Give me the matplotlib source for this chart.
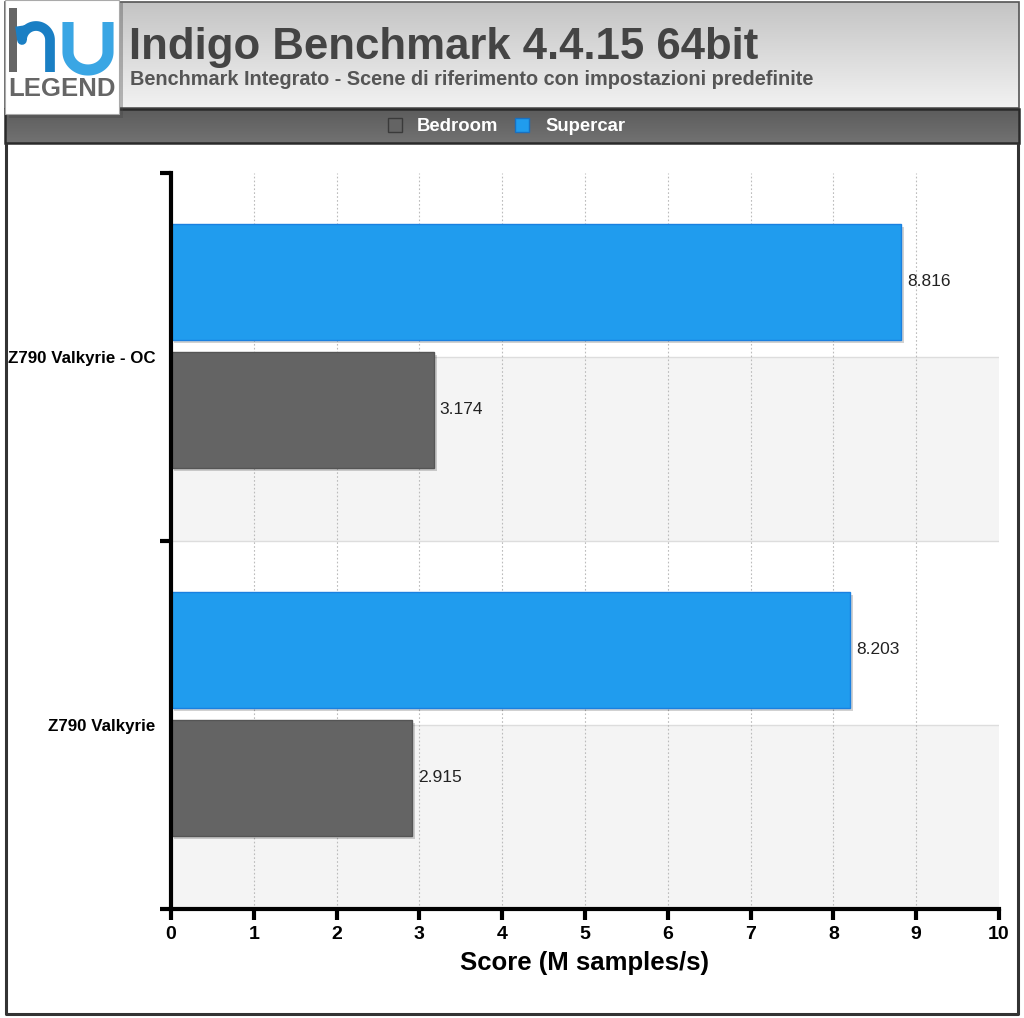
import matplotlib
matplotlib.use("Agg")
import matplotlib.pyplot as plt
import numpy as np
from matplotlib.patches import Rectangle
from matplotlib.colors import LinearSegmentedColormap
import matplotlib.patheffects as pe

categories = ["Z790 Valkyrie - OC", "Z790 Valkyrie"]
series_names = ["Bedroom", "Supercar"]
bedroom = [3.174, 2.915]
supercar = [8.816, 8.203]
x_ticks = [0, 1, 2, 3, 4, 5, 6, 7, 8, 9, 10]
title = "Indigo Benchmark 4.4.15 64bit"
subtitle = "Benchmark Integrato - Scene di riferimento con impostazioni predefinite"
xlabel = "Score (M samples/s)"

C_BED = "#646464"
C_SUP = "#209cee"
FONT = ["Liberation Sans", "DejaVu Sans"]

W, H = 1024, 1018
fig = plt.figure(figsize=(W / 100, H / 100), dpi=100)
fig.patch.set_facecolor("white")

ov = fig.add_axes([0, 0, 1, 1], zorder=0)
ov.set_xlim(0, W)
ov.set_ylim(H, 0)
ov.axis("off")

grad = np.linspace(0, 1, 200).reshape(-1, 1)
cm_head = LinearSegmentedColormap.from_list("h", ["#c4c4c4", "#f2f2f2"])
ov.imshow(grad, cmap=cm_head, extent=[5, 1019, 108, 2], aspect="auto", zorder=1)
ov.add_patch(Rectangle((5, 2), 1014, 106, fill=False, ec="#555555", lw=1.2, zorder=2))

cm_leg = LinearSegmentedColormap.from_list("l", ["#5c5c5c", "#727272"])
ov.imshow(grad, cmap=cm_leg, extent=[5, 1019, 143, 109], aspect="auto", zorder=1)
ov.add_patch(Rectangle((5, 109), 1014, 34, fill=False, ec="#2a2a2a", lw=1.8, zorder=2))

ov.plot([6, 6, 1018, 1018], [143, 1014, 1014, 143], color="#333333", lw=2.2, zorder=2,
        solid_capstyle="butt")

# logo
ov.add_patch(Rectangle((9, 3), 114, 115, fc="#444444", ec="none", alpha=0.35, zorder=3))
ov.add_patch(Rectangle((5, 0), 114, 114, fc="white", ec="#aaaaaa", lw=0.8, zorder=4))
ov.add_patch(Rectangle((9, 8), 8, 64, fc="#666666", ec="none", zorder=5))
t = np.linspace(np.pi, 0, 40)
ax_h = 36 + 14 * np.cos(t)
ay_h = 40 - 14 * np.sin(t)
ov.plot(np.r_[20, ax_h, 50], np.r_[26, ay_h, 72], color="#1a7fc4", lw=7, zorder=5,
        solid_capstyle="butt", solid_joinstyle="round")
ax_u = 88 + 20 * np.cos(t)
ay_u = 52 + 18 * np.sin(t)
ov.plot(np.r_[68, ax_u, 108], np.r_[22, ay_u, 22], color="#3aa6e4", lw=8, zorder=5,
        solid_capstyle="butt", solid_joinstyle="round")
ov.text(62, 89, "LEGEND", fontsize=18.5, fontweight="bold", color="#666666", ha="center",
        va="center", family=FONT, zorder=5)

# titles
ov.text(129, 59, title, fontsize=31.5, fontweight="bold", color="#444444", ha="left",
        va="baseline", family=FONT, zorder=5)
ov.text(130, 85, subtitle, fontsize=14.3, fontweight="bold", color="#555555", ha="left",
        va="baseline", family=FONT, zorder=5)

# legend entries
ov.add_patch(Rectangle((388, 118), 14, 14, fc=C_BED, ec="#3a3a3a", lw=1, zorder=5))
ov.text(417, 126, series_names[0], fontsize=13.3, fontweight="bold", color="white", ha="left",
        va="center", family=FONT, zorder=5)
ov.add_patch(Rectangle((515, 118), 14, 14, fc=C_SUP, ec="#1a70c0", lw=1, zorder=5))
ov.text(545, 126, series_names[1], fontsize=13.3, fontweight="bold", color="white", ha="left",
        va="center", family=FONT, zorder=5)

# main axes
left, right, top, bottom = 171, 999, 173, 909
ax = fig.add_axes([left / W, 1 - bottom / H, (right - left) / W, (bottom - top) / H], zorder=2)
ax.set_facecolor("none")
ax.set_xlim(0, 10)
ax.set_ylim(1.5, -0.5)

ypos = np.arange(len(categories))
for y in ypos:
    ax.axhspan(y, y + 0.5, color="#f4f4f4", zorder=0, lw=0)
    ax.axhline(y, color="#dddddd", lw=1, zorder=0.5)
ax.axhline(0.5, color="#dddddd", lw=1, zorder=0.5)
for xt in x_ticks[1:-1]:
    ax.axvline(xt, color="#bbbbbb", lw=0.8, ls=(0, (1.5, 2)), zorder=0.6)

h = 0.315
off_sup = -0.204
off_bed = 0.144
shadow = [pe.SimplePatchShadow(offset=(2, -2), shadow_rgbFace="#000000", alpha=0.18), pe.Normal()]
b1 = ax.barh(ypos + off_sup, supercar, height=h, color=C_SUP, edgecolor="#1a80e0", lw=1, zorder=3)
b2 = ax.barh(ypos + off_bed, bedroom, height=h, color=C_BED, edgecolor="#555555", lw=1, zorder=3)
for b in list(b1) + list(b2):
    b.set_path_effects(shadow)
for y, v in zip(ypos, supercar):
    ax.text(v + 0.07, y + off_sup, f"{v:.3f}", va="center", ha="left", fontsize=12.5,
            color="#222222", family=FONT, zorder=4)
for y, v in zip(ypos, bedroom):
    ax.text(v + 0.07, y + off_bed, f"{v:.3f}", va="center", ha="left", fontsize=12.5,
            color="#222222", family=FONT, zorder=4)

for s in ["top", "right"]:
    ax.spines[s].set_visible(False)
for s in ["left", "bottom"]:
    ax.spines[s].set_linewidth(3)
    ax.spines[s].set_color("black")
    ax.spines[s].set_zorder(5)

ax.set_xticks(x_ticks)
ax.set_xticklabels([str(t) for t in x_ticks], fontsize=14, fontweight="bold", family=FONT)
ax.tick_params(axis="x", direction="out", length=8, width=3, pad=4, color="black")
ax.set_yticks([-0.5, 0.5, 1.5])
ax.set_yticklabels([])
ax.tick_params(axis="y", direction="out", length=8, width=3, color="black")
ax.set_yticks(ypos, minor=True)
ax.set_yticklabels(categories, minor=True, fontsize=12.2, fontweight="bold", family=FONT)
ax.tick_params(axis="y", which="minor", length=0, pad=11)
ax.set_xlabel(xlabel, fontsize=18.5, fontweight="bold", family=FONT, labelpad=6)

fig.savefig("out.png", dpi=100)
